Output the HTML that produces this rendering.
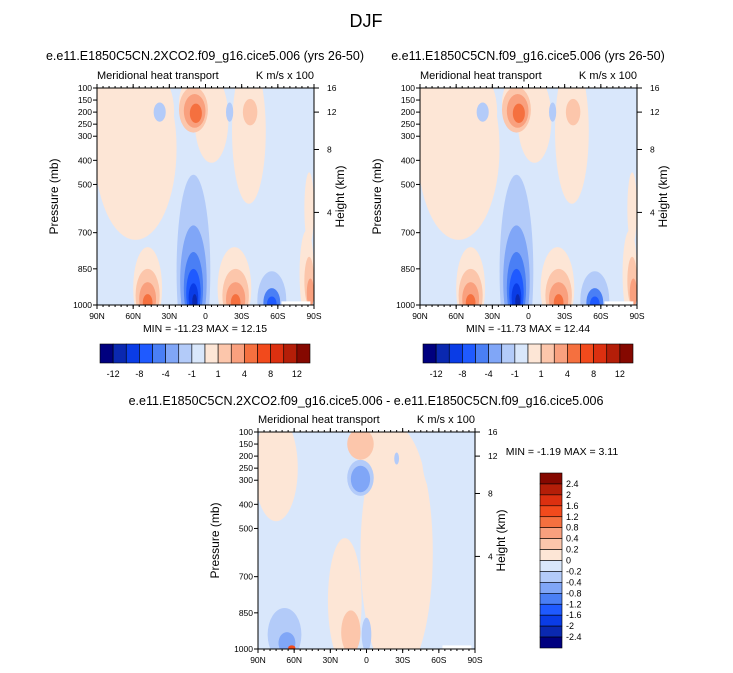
<!DOCTYPE html>
<html><head><meta charset="utf-8"><style>
body{margin:0;background:#fff}
svg{display:block;font-family:"Liberation Sans",sans-serif}
</style></head><body>
<svg id="c" width="733" height="673" xmlns="http://www.w3.org/2000/svg">
<text x="366" y="27" font-size="18" text-anchor="middle">DJF</text>
</svg>
<script>
const palette=["#00007f","#0a28b0","#0a3ce6","#1f5aff","#4a7ff5","#80a6f7","#b3cbf9","#d9e7fb","#fde6d6","#fcc6ab","#f9a07e","#f5703f","#f24a1c","#dc3010","#b41e08","#850800"];
const hLabels=["-12","-8","-4","-1","1","4","8","12"];
const vLabels=["2.4","2","1.6","1.2","0.8","0.4","0.2","0","-0.2","-0.4","-0.8","-1.2","-1.6","-2","-2.4"];
const pTicks=[100,150,200,250,300,400,500,700,850,1000];
const latTicks=[90,60,30,0,-30,-60,-90];
const latLabels=["90N","60N","30N","0","30S","60S","90S"];
const hTicks=[[16,100],[12,200],[8,355],[4,616]];
// blobs: [lat, pressure, rx(deg), ry(mb), level index]
const blobs1=[[58,350,34,380,8],[72,150,22,200,8],[40,200,14,150,8],[-36,280,14,300,8],[-5,230,14,180,8],[4,160,18,120,8],[-86,600,4,150,8],
[48,930,12,170,8],[-24,930,14,170,8],[-84,870,6,180,8],
[10,190,12,95,9],[9,195,9,70,10],[8,205,5,40,11],[38,200,5,40,6],[-20,200,3,40,6],[-37,200,6,55,9],
[10,860,14,400,6],[10,900,11,230,5],[10,930,8,150,4],[10,950,6,100,3],[10,970,4,60,2],[9,985,2,30,1],
[48,960,10,110,9],[48,975,7,70,10],[48,990,4,35,11],[-25,960,11,110,9],[-25,975,8,70,10],[-25,990,4,35,11],
[-55,980,12,120,6],[-55,990,7,60,4],[-55,995,4,30,3],[-86,900,4,100,9],[-87,950,3,60,10]];
const blobs2=[[58,350,34,380,8],[72,150,22,200,8],[40,200,14,150,8],[-36,280,14,300,8],[-5,230,14,180,8],[4,160,18,120,8],[-86,600,4,150,8],
[48,930,12,170,8],[-24,930,14,170,8],[-84,870,6,180,8],
[10,190,12,95,9],[9,195,9,70,10],[8,205,5,40,11],[38,200,5,40,6],[-20,200,3,40,6],[-37,200,6,55,9],
[10,860,14,400,6],[10,900,11,230,5],[10,930,8,150,4],[10,950,6,100,3],[10,970,4,60,2],[9,985,2,30,1],
[48,960,10,110,9],[48,975,7,70,10],[48,990,4,35,11],[-25,960,11,110,9],[-25,975,8,70,10],[-25,990,4,35,11],
[-55,980,12,120,6],[-55,990,7,60,4],[-55,995,4,30,3],[-86,900,4,100,9],[-87,950,3,60,10]];
const blobs3=[[75,250,18,220,8],[-25,600,30,520,8],[-10,150,18,200,8],[18,800,14,260,8],[-68,200,22,200,7],[-60,100,15,80,7],
[5,150,11,65,9],[5,290,11,75,6],[5,295,8,55,5],[-25,210,2,25,6],
[13,930,8,90,9],[0,940,4,70,6],[68,940,14,110,6],[66,975,7,45,5],[62,995,3,10,12]];
const S="http://www.w3.org/2000/svg",svg=document.getElementById('c');
function el(t,a,p){const e=document.createElementNS(S,t);for(const k in a)e.setAttribute(k,a[k]);(p||svg).appendChild(e);return e;}
function txt(x,y,s,size,anchor,p){const t=el('text',{x:x,y:y,'font-size':size,'text-anchor':anchor||'start'},p);t.textContent=s;return t;}
function panel(id,x0,y0,blobs,title,tx,minmax,mx,my){
 const W=217,H=217;
 const X=l=>x0+(90-l)/180*W, Y=p=>y0+(p-100)/900*H;
 const g=el('g',{});
 
 
 const cp=el('clipPath',{id:id+'-clip'},g);el('rect',{x:x0,y:y0,width:W,height:H},cp);
 const f=el('g',{'clip-path':'url(#'+id+'-clip)'},g);
 
 
 el('rect',{x:x0,y:y0,width:W,height:H,fill:palette[7]},f);
 blobs.forEach(b=>{const e=el('ellipse',{cx:X(b[0]),cy:Y(b[1]),rx:b[2]/180*W,ry:b[3]/900*H,fill:palette[b[4]]},f);
  
  });
 el('rect',{x:X(-63),y:Y(985),width:X(-87)-X(-63),height:Y(1000)-Y(985),fill:'#fff'},f);
 el('rect',{x:x0,y:y0,width:W,height:H,fill:'none',stroke:'#000','stroke-width':1},g);
 pTicks.forEach(p=>{el('line',{x1:x0-4,x2:x0,y1:Y(p),y2:Y(p),stroke:'#000'},g);txt(x0-5,Y(p)+3,String(p),8.5,'end',g);});
 latTicks.forEach((l,i)=>{el('line',{x1:X(l),x2:X(l),y1:y0+H,y2:y0+H+4,stroke:'#000'},g);el('line',{x1:X(l),x2:X(l),y1:y0,y2:y0-4,stroke:'#000'},g);txt(X(l),y0+H+14,latLabels[i],8.5,'middle',g);});
 for(let l=85;l>-90;l-=5){el('line',{x1:X(l),x2:X(l),y1:y0+H,y2:y0+H+2,stroke:'#000'},g);el('line',{x1:X(l),x2:X(l),y1:y0,y2:y0-2,stroke:'#000'},g);}
 hTicks.forEach(h=>{el('line',{x1:x0+W,x2:x0+W+5,y1:Y(h[1]),y2:Y(h[1]),stroke:'#000'},g);txt(x0+W+13,Y(h[1])+3,String(h[0]),8.5,'start',g);});
 const yl=txt(0,0,'Pressure (mb)',12,'middle',g);yl.setAttribute('transform','translate('+(x0-39)+','+(y0+H/2)+') rotate(-90)');
 const hl=txt(0,0,'Height (km)',12,'middle',g);hl.setAttribute('transform','translate('+(x0+W+30)+','+(y0+H/2)+') rotate(-90)');
 txt(x0,y0-9,'Meridional heat transport',11,'start',g);
 txt(x0+W,y0-9,'K m/s x 100',11,'end',g);
 if(title)txt(tx,y0-28,title,12.5,'middle',g);
 txt(mx,my,minmax,10.5,'middle',g);
}
panel('panel-2xco2',97,88,blobs1,'e.e11.E1850C5CN.2XCO2.f09_g16.cice5.006 (yrs 26-50)',205,'MIN = -11.23  MAX = 12.15',205,332);
panel('panel-control',420,88,blobs2,'e.e11.E1850C5CN.f09_g16.cice5.006 (yrs 26-50)',528,'MIN = -11.73  MAX = 12.44',528,332);
panel('panel-diff',258,432,blobs3,null,0,'MIN = -1.19  MAX =  3.11',562,455);
txt(366,405,'e.e11.E1850C5CN.2XCO2.f09_g16.cice5.006 - e.e11.E1850C5CN.f09_g16.cice5.006',12.5,'middle');
function hbar(id,x0){const g=el('g',{});
 const w=210/16;palette.forEach((c,i)=>el('rect',{x:x0+i*w,y:344,width:w,height:19,fill:c,stroke:'#000','stroke-width':0.6},g));
 hLabels.forEach((s,i)=>{const idx=[1,3,5,7,9,11,13,15][i];txt(x0+idx*w,377,s,9,'middle',g);});}
hbar('colorbar-left',100);hbar('colorbar-right',423);
(function(){const g=el('g',{});
 const h=175/16;palette.slice().reverse().forEach((c,i)=>el('rect',{x:540,y:473+i*h,width:22,height:h,fill:c,stroke:'#000','stroke-width':0.6},g));
 vLabels.forEach((s,i)=>txt(566,473+(i+1)*h+3,s,9,'start',g));})();
</script>
</body></html>
